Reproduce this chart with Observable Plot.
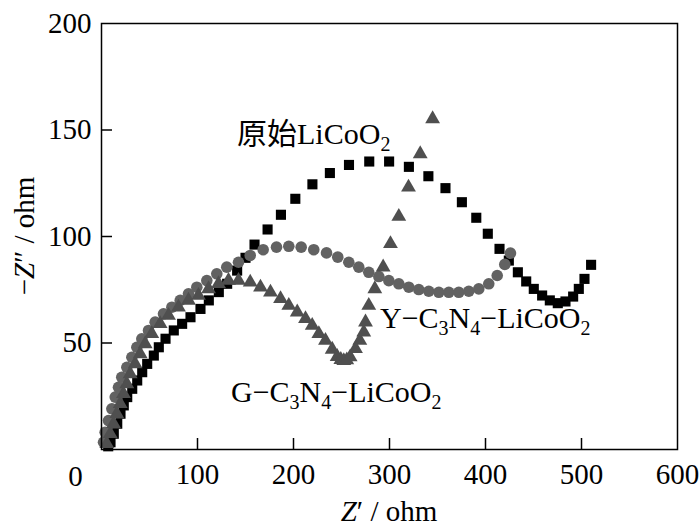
<!DOCTYPE html>
<html>
<head>
<meta charset="utf-8">
<script src="https://cdn.jsdelivr.net/npm/d3@7"></script>
<script src="https://cdn.jsdelivr.net/npm/@observablehq/plot@0.6"></script>
<style>
  body { margin: 0; background: #fff; }
  #chart { width: 700px; height: 531px; }
</style>
</head>
<body>
<div id="chart"></div>
<script>
// ---------- data ----------
// Pristine LiCoO2 (black squares)
const pristineZre = [7, 9.4, 12.8, 16.4, 19.8, 23.2, 26.8, 32, 37.2, 42.4, 47.6, 54.5, 59.7, 66.7, 75.3, 84, 92.7, 103.1, 111.8, 122.2, 130.9, 141.3, 150, 159.4, 173, 186.9, 201.9, 219.7, 237.9, 257.8, 278.9, 299.6, 320.2, 340.5, 358.3, 375.4, 390.4, 402.4, 414.6, 424.3, 433.7, 442.4, 450.3, 459, 467, 475.3, 483.3, 491.3, 497.2, 503.1, 510];
const pristineZim = [1.5, 3.4, 7.4, 12.1, 16.8, 20.7, 24.6, 28.5, 32.4, 36.3, 40.2, 44.1, 48, 52, 55.9, 59, 62.1, 66, 70, 73.9, 77.8, 84, 90, 96.2, 103.3, 110.2, 117.7, 124.5, 129.8, 133.6, 135.2, 135.2, 132.7, 128.3, 122.7, 116.1, 108.8, 101.3, 94.2, 88.7, 83.2, 78.9, 75.4, 72.3, 70, 68.7, 69.5, 71.8, 75.4, 80.1, 86.7];

// Y-C3N4-LiCoO2 (grey circles)
const yZre = [2.1, 3.8, 7.3, 10.8, 14.3, 17.7, 21.1, 26.4, 31.6, 36.8, 42, 49, 55.9, 64.6, 73.3, 82, 90.6, 99.3, 109.7, 120.1, 130.5, 142.7, 154.9, 168.4, 182.3, 195.1, 208, 221.1, 234.4, 246.1, 257.6, 268, 278.4, 288.9, 299.3, 309.7, 320.1, 330.5, 340.9, 351.4, 361.8, 372.2, 382.6, 393, 403.4, 412.2, 420.1, 426];
const yZim = [3.4, 8.1, 13.6, 19.1, 24.6, 29.2, 33.9, 38.6, 43.3, 48, 52, 55.9, 59.8, 63.7, 66.8, 70, 73.1, 76.2, 79.3, 82.5, 85.6, 87.9, 91.1, 93.8, 95, 95.4, 95, 93.8, 92.3, 90.3, 87.9, 85.6, 83.2, 81.2, 79.3, 77.8, 76.2, 75.1, 74.3, 73.8, 73.8, 73.8, 74.3, 75.4, 77.8, 81.7, 86.9, 92.2];

// G-C3N4-LiCoO2 (grey triangles)
const gZre = [5.5, 9.1, 12.5, 15.9, 19.5, 22.9, 26.4, 29.9, 35.1, 40.3, 45.5, 52.4, 61.1, 69.8, 80.2, 90.6, 101, 111.5, 121.9, 132.3, 142.7, 154.9, 165.6, 176, 186.5, 195.1, 203.9, 212.5, 219.5, 226.4, 233.3, 240.3, 245.5, 249.3, 252.4, 255.5, 259, 264.6, 269.1, 273.2, 275, 278.4, 284.7, 293.4, 301, 309.7, 319.8, 332, 344.9];
const gZim = [2.7, 7.4, 12.1, 16.8, 21.5, 26.2, 30.8, 35.5, 40.2, 44.9, 49.6, 54.3, 59, 62.9, 66.8, 70, 72.3, 75.4, 77.8, 79.3, 79.3, 78.5, 76.2, 73.8, 70.8, 67.6, 64.5, 61.4, 58.2, 54.3, 51.2, 47, 43.6, 42.2, 41.7, 42, 43.4, 47.3, 51.2, 55.1, 59.8, 67.6, 75.4, 85.6, 96.6, 109.4, 123.1, 138.8, 155.2];

// ticks
const xTickLabels = [100, 200, 300, 400, 500, 600];
const xInnerTicks = [100, 200, 300, 400, 500];
const yTickLabels = [50, 100, 150, 200];
const yInnerTicks = [50, 100, 150];
const originLabel = ["0"];

// ---------- build tables ----------
const toRows = (re, im) => re.map((v, i) => ({zre: v, zim: im[i]}));
const pristine = toRows(pristineZre, pristineZim);
const yC3N4 = toRows(yZre, yZim);
const gC3N4 = toRows(gZre, gZim);

const FONT = '"Liberation Serif", "Times New Roman", "Noto Sans CJK SC", serif';
const W = 700, H = 531;
const mL = 101, mR = 23, mT = 23, mB = 82;
const plotW = W - mL - mR, plotH = H - mT - mB;
const TICK = 11;

const plot = Plot.plot({
  width: W,
  height: H,
  marginLeft: mL, marginRight: mR, marginTop: mT, marginBottom: mB,
  style: {fontFamily: FONT, fontSize: "29px", color: "#000", background: "#fff", overflow: "visible"},
  x: {domain: [0, 600]},
  y: {domain: [0, 200]},
  marks: [
    Plot.dot(pristine, {x: "zre", y: "zim", symbol: "square", r: 5.7, fill: "#000"}),
    Plot.dot(yC3N4, {x: "zre", y: "zim", symbol: "circle", r: 5.8, fill: "#626262"}),
    Plot.dot(gC3N4, {x: "zre", y: "zim", symbol: "triangle", r: 5.5, fill: "#4f4f4f"}),
    Plot.frame({stroke: "#000", strokeWidth: 1.5}),
    Plot.tickX(xInnerTicks, {x: d => d, insetTop: plotH - TICK, stroke: "#000", strokeWidth: 1.5}),
    Plot.tickY(yInnerTicks, {y: d => d, insetRight: plotW - TICK, stroke: "#000", strokeWidth: 1.5}),
    Plot.axisX(xTickLabels, {tickSize: 0, tickPadding: 14, fontSize: 29, label: null, tickFormat: d => String(d)}),
    Plot.axisY(yTickLabels, {tickSize: 0, tickPadding: 10, fontSize: 29, label: null, tickFormat: d => String(d)}),
    Plot.text(originLabel, {x: () => 0, y: () => 0, text: d => d, dx: -26, dy: 27, fontSize: 29, fill: "#000"})
  ]
});

document.getElementById("chart").appendChild(plot);

// ---------- annotations & axis titles (real text with sub/italics) ----------
const sx = plot.scale("x"), sy = plot.scale("y");
const svg = d3.select(plot);

function rich(x, y, parts, size, attrs = {}) {
  const t = svg.append("text")
    .attr("x", x).attr("y", y)
    .attr("font-family", FONT)
    .attr("font-size", size)
    .attr("text-anchor", "start")
    .attr("fill", "#000");
  for (const [k, v] of Object.entries(attrs)) t.attr(k, v);
  let shifted = 0;
  for (const p of parts) {
    const s = typeof p === "string" ? {t: p} : p;
    const ts = t.append("tspan").text(s.t);
    const want = s.sub ? Math.round(size * 0.24) : 0;
    if (want !== shifted) { ts.attr("dy", want - shifted); shifted = want; }
    if (s.sub) ts.attr("font-size", Math.round(size * 0.66));
    if (s.it) ts.attr("font-style", "italic");
  }
  return t;
}

const labelSize = 30;
const labels = [
  {zre: 141.7, zim: 143.2, parts: ["原始LiCoO", {t: "2", sub: true}]},
  {zre: 290.6, zim: 56.8, parts: ["Y−C", {t: "3", sub: true}, "N", {t: "4", sub: true}, "−LiCoO", {t: "2", sub: true}]},
  {zre: 135.4, zim: 22.1, parts: ["G−C", {t: "3", sub: true}, "N", {t: "4", sub: true}, "−LiCoO", {t: "2", sub: true}]}
];
for (const l of labels) rich(sx.apply(l.zre), sy.apply(l.zim), l.parts, labelSize);

// x axis title
rich(mL + plotW / 2, 521, [{t: "Z", it: true}, "′ / ohm"], 29, {"text-anchor": "middle"});
// y axis title
rich(0, 0, ["−", {t: "Z", it: true}, "″ / ohm"], 29,
  {"text-anchor": "middle", transform: `translate(34,${mT + plotH / 2}) rotate(-90)`});
</script>
</body>
</html>
